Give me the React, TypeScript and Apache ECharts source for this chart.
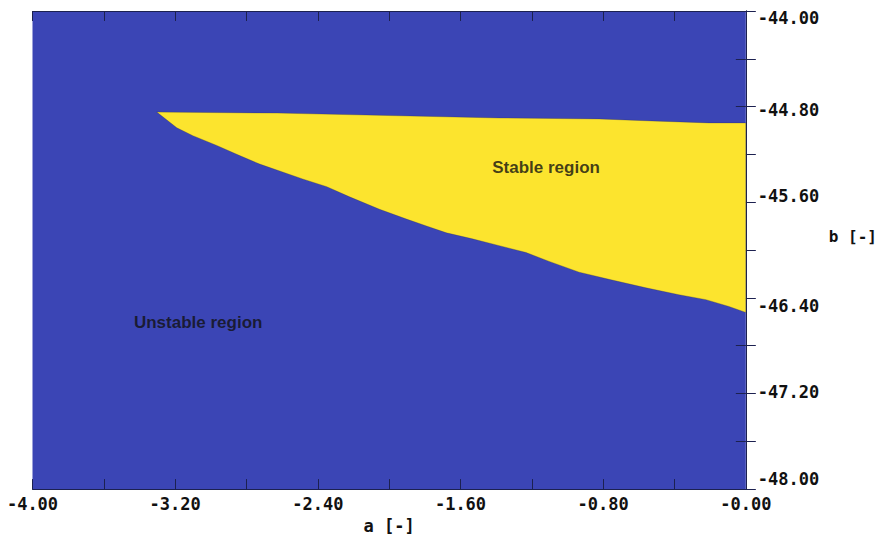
import React, { useEffect, useRef } from "react";
import * as echarts from "echarts";

// Stability boundary in the (a, b) parameter plane.
// Upper edge of the stable region, left (tip) to right.
const topEdgeA = [-3.303, -2.626, -1.383, -0.823, -0.527, -0.208, 0];
const topEdgeB = [-44.846, -44.854, -44.895, -44.903, -44.92, -44.936, -44.936];

// Lower edge of the stable region, left (tip) to right.
const lowEdgeA = [
  -3.303, -3.191, -3.101, -2.967, -2.855, -2.726, -2.598, -2.486, -2.35, -2.222,
  -2.054, -1.903, -1.791, -1.679, -1.534, -1.383, -1.232, -1.103, -0.935, -0.75,
  -0.56, -0.375, -0.224, -0.095, 0,
];
const lowEdgeB = [
  -44.846, -44.977, -45.043, -45.125, -45.199, -45.281, -45.347, -45.405, -45.47,
  -45.555, -45.659, -45.741, -45.799, -45.856, -45.906, -45.963, -46.021, -46.095,
  -46.185, -46.251, -46.316, -46.374, -46.415, -46.472, -46.522,
];

const regionNames = ["Stable region", "Unstable region"];
const regionA = [-1.12, -3.071];
const regionB = [-45.306, -46.604];

const xTickLabels = ["-4.00", "-3.20", "-2.40", "-1.60", "-0.80", "-0.00"];
const yTickLabels = ["-48.00", "-47.20", "-46.40", "-45.60", "-44.80", "-44.00"];
// vertical nudge (px) of each b label relative to its tick, bottom to top
const yLabelShift = [-10, -1, 8, -6, 3, 7];

const X_MIN = -4;
const X_MAX = 0;
const Y_MIN = -48;
const Y_MAX = -44;
const STEP = 0.8;

const BLUE = "#3b45b5";
const YELLOW = "#fce42e";
const INK = "#111111";
const EDGE = "#1c2150";

const monoFont = "'DejaVu Sans Mono', 'Liberation Mono', monospace";

export default function App() {
  const ref = useRef<HTMLDivElement>(null);

  useEffect(() => {
    if (!ref.current) return;
    const chart = echarts.init(ref.current, undefined, { renderer: "svg" });

    const rich: Record<string, any> = {};
    yLabelShift.forEach((s, i) => {
      rich["t" + i] = {
        fontFamily: monoFont,
        fontWeight: "bold",
        fontSize: 17,
        color: INK,
        padding: s >= 0 ? [2 * s, 0, 0, 0] : [0, 0, -2 * s, 0],
      };
    });

    const tickCommon = {
      show: true,
      inside: true,
      length: 10,
      lineStyle: { color: EDGE, width: 1 },
    };
    const minorCommon = {
      show: true,
      splitNumber: 2,
      length: 10,
      lineStyle: { color: EDGE, width: 1 },
    };
    const lineCommon = { show: true, lineStyle: { color: EDGE, width: 1 } };

    const xBase = {
      type: "value" as const,
      min: X_MIN,
      max: X_MAX,
      interval: STEP,
      axisLine: lineCommon,
      axisTick: tickCommon,
      minorTick: minorCommon,
      splitLine: { show: false },
    };
    const yBase = {
      type: "value" as const,
      min: Y_MIN,
      max: Y_MAX,
      interval: STEP,
      axisLine: lineCommon,
      axisTick: tickCommon,
      minorTick: minorCommon,
      splitLine: { show: false },
    };

    const polygonPoints = () => {
      const pts: [number, number][] = [];
      for (let i = 0; i < topEdgeA.length; i++) pts.push([topEdgeA[i], topEdgeB[i]]);
      for (let i = lowEdgeA.length - 1; i >= 1; i--) pts.push([lowEdgeA[i], lowEdgeB[i]]);
      return pts;
    };

    chart.setOption({
      animation: false,
      backgroundColor: "#ffffff",
      grid: {
        left: 32.5,
        right: 133,
        top: 11,
        bottom: 41,
        show: true,
        backgroundColor: BLUE,
        borderWidth: 0,
      },
      xAxis: [
        {
          ...xBase,
          position: "bottom",
          name: "a [-]",
          nameLocation: "middle",
          nameGap: 21,
          nameTextStyle: {
            fontFamily: monoFont,
            fontWeight: "bold",
            fontSize: 17,
            color: INK,
          },
          axisLabel: {
            margin: 6,
            fontFamily: monoFont,
            fontWeight: "bold",
            fontSize: 17,
            color: INK,
            formatter: (v: number) => xTickLabels[Math.round((v - X_MIN) / STEP)] ?? "",
          },
        },
        { ...xBase, position: "top", axisLabel: { show: false } },
      ],
      yAxis: [
        {
          ...yBase,
          position: "right",
          name: "b [-]",
          nameLocation: "middle",
          nameRotate: 0,
          nameGap: 83,
          nameTextStyle: {
            fontFamily: monoFont,
            fontWeight: "bold",
            fontSize: 16,
            color: INK,
            align: "left",
            verticalAlign: "bottom",
            padding: [0, 0, 6, 0],
          },
          axisLabel: {
            margin: 12,
            formatter: (v: number) => {
              const i = Math.round((v - Y_MIN) / STEP);
              return `{t${i}|${yTickLabels[i] ?? ""}}`;
            },
            rich,
          },
        },
        { ...yBase, position: "left", axisLabel: { show: false } },
      ],
      series: [
        {
          type: "custom",
          xAxisIndex: 0,
          yAxisIndex: 0,
          data: [0],
          silent: true,
          renderItem: (_params: any, api: any) => ({
            type: "polygon",
            shape: { points: polygonPoints().map((p) => api.coord(p)) },
            style: { fill: YELLOW, stroke: "rgba(40,40,70,0.35)", lineWidth: 0.8 },
          }),
        },
        {
          type: "scatter",
          xAxisIndex: 0,
          yAxisIndex: 0,
          symbolSize: 0,
          silent: true,
          data: regionNames.map((n, i) => ({ name: n, value: [regionA[i], regionB[i]] })),
          label: {
            show: true,
            position: "inside",
            formatter: (p: any) => p.name,
            fontFamily: "'Liberation Sans', Arial, sans-serif",
            fontWeight: "bold",
            fontSize: 17,
            color: INK,
          },
        },
      ],
    });

    return () => chart.dispose();
  }, []);

  return (
    <div
      ref={ref}
      style={{ position: "fixed", left: 0, top: 0, width: 880, height: 539 }}
    />
  );
}
